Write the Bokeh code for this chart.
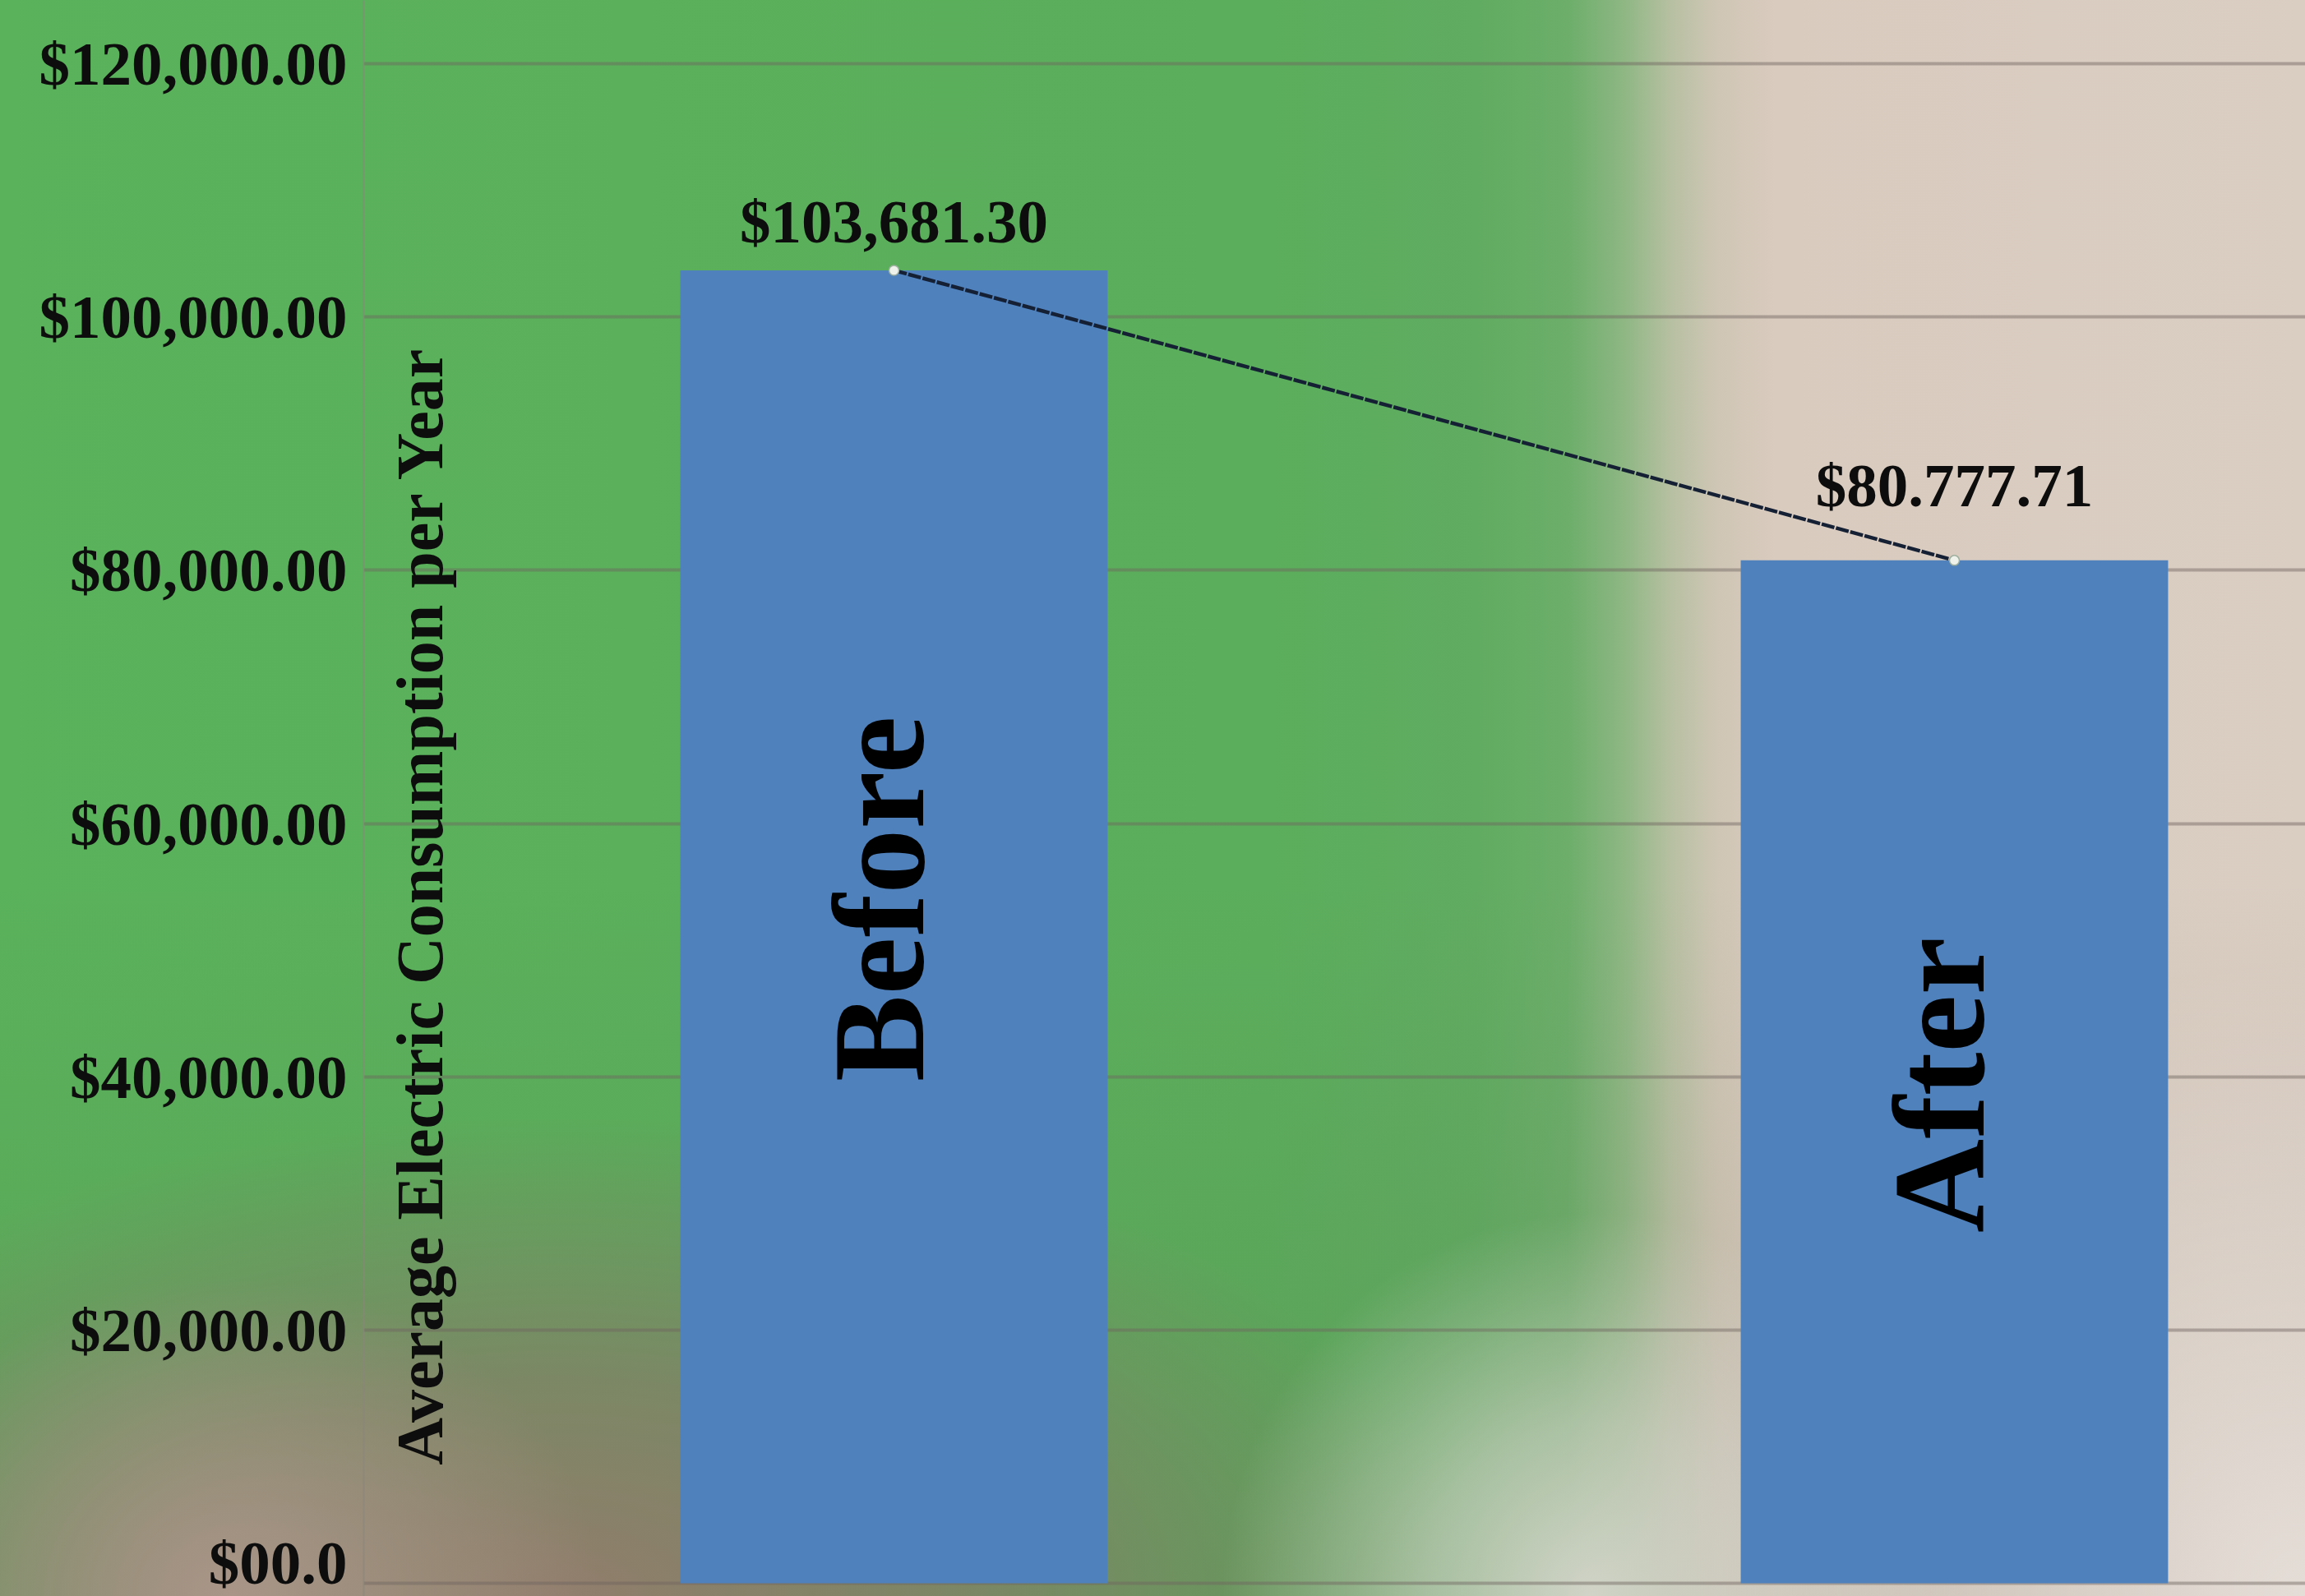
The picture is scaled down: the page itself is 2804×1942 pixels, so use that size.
import math
from bokeh.plotting import figure
from bokeh.models import FixedTicker, Label, ColumnDataSource
from bokeh.core.properties import value
from bokeh.embed import file_html
from bokeh.resources import INLINE

# ---- data ----
categories = ["Before", "After"]
costs = [103681.30, 80777.71]
cost_labels = ["$103,681.30", "$80.777.71"]
tick_values = [0, 20000, 40000, 60000, 80000, 100000, 120000]
tick_labels = ["$00.0", "$20,000.00", "$40,000.00", "$60,000.00",
               "$80,000.00", "$100,000.00", "$120,000.00"]
y_title = "Average Electric Consumption per Year"

# ---- label placement (screen px, styling only) ----
value_label_offsets = [-59, -91]
cat_label_offsets = [-34, 16]

W, H = 2804, 1942
FONT = value("Liberation Serif")

xpos = [i + 0.5 for i in range(len(categories))]
src = ColumnDataSource(dict(x=xpos, cat=categories, cost=costs, lab=cost_labels,
                            mid=[c / 2 for c in costs],
                            voff=value_label_offsets, coff=cat_label_offsets))

p = figure(width=W, height=H, output_backend="svg", toolbar_location=None,
           x_range=(0, 1.831), y_range=(-1040, 125000),
           min_border_left=442, min_border_right=0, min_border_top=0, min_border_bottom=0)

p.background_fill_color = None
p.border_fill_color = None
p.outline_line_color = None
p.styles = {
    "background": (
        "radial-gradient(ellipse 16% 24% at 69% 100%, rgba(214,214,204,0.95) 0%, rgba(214,214,204,0.6) 45%, rgba(214,214,204,0) 100%),"
        "radial-gradient(ellipse 16% 20% at 10% 100%, rgba(172,150,138,0.95) 0%, rgba(172,150,138,0) 100%),"
        "radial-gradient(ellipse 40% 30% at 24% 100%, rgba(145,125,108,1) 0%, rgba(135,125,105,0.75) 45%, rgba(120,125,100,0) 100%),"
        "radial-gradient(ellipse 25% 40% at 100% 100%, rgba(236,230,225,0.8) 0%, rgba(236,230,225,0) 100%),"
        "linear-gradient(to bottom, rgba(80,90,60,0) 0%, rgba(80,90,60,0) 55%, rgba(90,85,70,0.15) 100%),"
        "linear-gradient(to right, #5ab25b 0%, #5bae5c 55%, #60ac61 64%, #6cae6a 68%, #8fb784 70.5%, #b7c0a2 72.5%, #cfc6b5 74.5%, #d9cbbe 77%, #dacdc2 100%)"
    )
}

# grid
p.xgrid.visible = False
p.ygrid.ticker = FixedTicker(ticks=tick_values)
p.ygrid.grid_line_color = "#6e645f"
p.ygrid.grid_line_alpha = 0.45
p.ygrid.grid_line_width = 4

# axes
p.xaxis.visible = False
yax = p.yaxis[0]
yax.ticker = FixedTicker(ticks=tick_values)
yax.major_label_overrides = {v: t for v, t in zip(tick_values, tick_labels)}
yax.major_label_text_font = "Liberation Serif"
yax.major_label_text_font_style = "bold"
yax.major_label_text_font_size = "75px"
yax.major_label_text_color = "#0d0d0d"
yax.major_label_standoff = 20
yax.major_tick_out = 0
yax.major_tick_in = 0
yax.minor_tick_out = 0
yax.minor_tick_in = 0
yax.axis_line_color = "#8a857c"
yax.axis_line_alpha = 0.6
yax.axis_line_width = 2

# bars
p.vbar(x="x", top="cost", bottom=0, width=0.403, source=src,
       fill_color="#4f81bd", line_color=None)

# connecting line with markers
p.line(x="x", y="cost", source=src, line_color="#152035", line_width=4.5, line_dash="16 2")
p.scatter(x="x", y="cost", source=src, size=12, marker="circle",
          fill_color="#eef2ea", line_color="#9fb0a0", line_width=1.5)

# data labels
p.text(x="x", y="cost", text="lab", source=src, text_font=FONT, text_font_style="bold",
       text_font_size="75px", text_color="#0d0d0d", text_align="center",
       text_baseline="alphabetic", y_offset="voff")

# category labels inside bars
p.text(x="x", y="mid", text="cat", source=src, text_font=FONT, text_font_style="bold",
       text_font_size="158px", text_color="#000000", text_align="center",
       text_baseline="middle", angle=math.pi / 2, x_offset=-18, y_offset="coff")

# y title inside plot area
p.add_layout(Label(x=0.0528, y=53540, text=y_title, angle=math.pi / 2,
                   text_align="center", text_baseline="middle",
                   text_font="Liberation Serif", text_font_style="bold",
                   text_font_size="80px", text_color="#0d0d0d"))

open("out.html", "w").write(file_html(p, INLINE))
